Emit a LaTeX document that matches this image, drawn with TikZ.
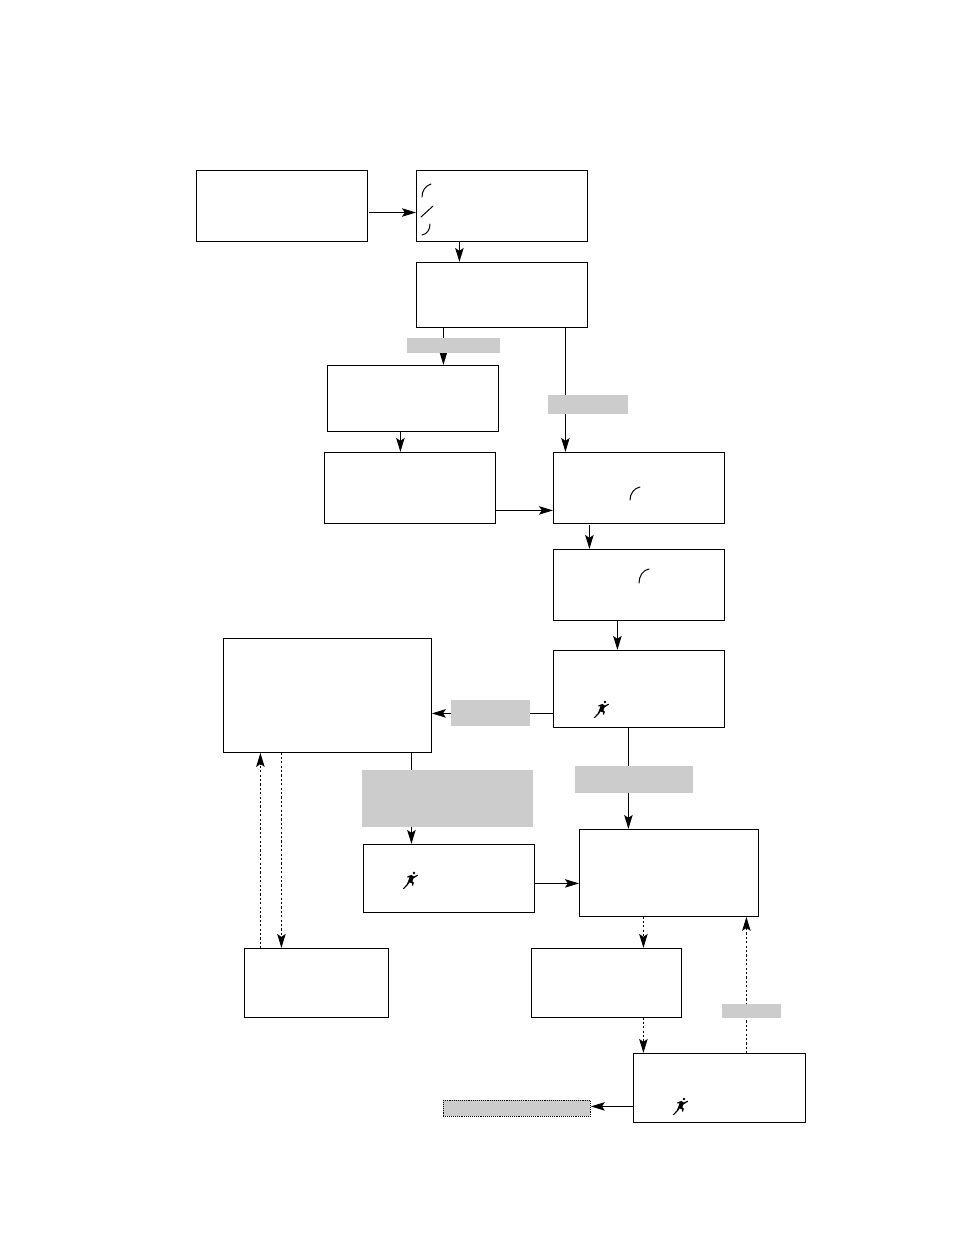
\documentclass[tikz,border=0pt]{standalone}
\usetikzlibrary{arrows.meta}
\definecolor{shade}{HTML}{CCCCCC}
\tikzset{
  panel/.style={draw=black,line width=0.95pt,fill=white,inner sep=0pt,outer sep=0pt},
  tag/.style={fill=shade,inner sep=0pt,outer sep=0pt},
  flow/.style={line width=0.95pt,-{Stealth[length=14pt,width=8.5pt,inset=3pt]},shorten >=0.5pt},
  soft/.style={flow,dash pattern=on 2.2pt off 2.2pt},
  glyph/.style={line width=1pt,line cap=round},
}
% box given by its left, top, right and bottom edges
\newcommand{\boxat}[6]{\node[#2,minimum width={(#5-#3)*1pt},minimum height={(#6-#4)*1pt}] (#1) at ({(#3+#5)/2+0.4},{(#4+#6)/2+0.4}) {};}
% small sprinting figure, placed by its centre
\newcommand{\sprinter}[2]{%
  \begin{scope}[shift={(#1,#2)},scale=1.1]
    \fill (-7.5,8) -- (-3.8,3.8) -- (-2.6,1) -- (-1.4,-2.6) -- (-3.4,-2.2) -- (-3.2,-3.4) -- (0.5,-4.6)
      -- (2.5,-3.2) -- (6,-4.8) -- (6.4,-4) -- (2.2,-1.4) -- (1.2,1.2) -- (2.6,2.4) -- (1.8,5.2) -- (0.9,5)
      -- (1,3) -- (-1.4,2.2) -- (-3,4.8) -- (-6.6,8.2) -- cycle;
    \fill (2.8,-6.4) circle (1.25);
  \end{scope}}
\begin{document}
\begin{tikzpicture}[x=1pt,y=-1pt]
\useasboundingbox (0,0) rectangle (954,1235);

% process boxes
\boxat{a}{panel}{196}{170}{367}{241}
\boxat{b}{panel}{416}{170}{587}{241}
\boxat{c}{panel}{416}{262}{587}{327}
\boxat{d}{panel}{327}{365}{498}{431}
\boxat{e}{panel}{324}{452}{495}{523}
\boxat{f}{panel}{553}{452}{724}{523}
\boxat{g}{panel}{553}{549}{724}{620}
\boxat{h}{panel}{553}{650}{724}{727}
\boxat{i}{panel}{223}{638}{431}{752}
\boxat{j}{panel}{363}{844}{534}{912}
\boxat{k}{panel}{579}{829}{758}{916}
\boxat{l}{panel}{244}{948}{388}{1017}
\boxat{m}{panel}{531}{948}{681}{1017}
\boxat{n}{panel}{633}{1053}{805}{1122}
\boxat{o}{tag,draw=black,line width=0.9pt,densely dotted}{443}{1100}{590}{1116}

% solid connectors
\draw[flow] ([xshift=2pt]a.east |- 0,212.5) -- (b.west |- 0,212.5);
\draw[flow] (b.south -| 459.4,0) -- (c.north -| 459.4,0);
\draw[flow] (c.south -| 443.4,0) -- (d.north -| 443.4,0);
\draw[flow] (c.south -| 565.4,0) -- (f.north -| 565.4,0);
\draw[flow] (d.south -| 400.4,0) -- (e.north -| 400.4,0);
\draw[flow] (e.east |- 0,510.4) -- (f.west |- 0,510.4);
\draw[flow] ([yshift=-2pt]f.south -| 589.4,0) -- (g.north -| 589.4,0);
\draw[flow] (g.south -| 617.4,0) -- (h.north -| 617.4,0);
\draw[flow] (h.west |- 0,713.4) -- (i.east |- 0,713.4);
\draw[flow] (h.south -| 628.4,0) -- (k.north -| 628.4,0);
\draw[flow] (i.south -| 411.4,0) -- (j.north -| 411.4,0);
\draw[flow] (j.east |- 0,883.4) -- (k.west |- 0,883.4);
\draw[flow] (n.west |- 0,1106.4) -- (o.east |- 0,1106.4);

% dashed connectors
\draw[soft] (k.south -| 643.4,0) -- (m.north -| 643.4,0);
\draw[soft] (m.south -| 643.4,0) -- (n.north -| 643.4,0);
\draw[soft] (n.north -| 746.4,0) -- (k.south -| 746.4,0);
\draw[soft] (l.north -| 260.4,0) -- (i.south -| 260.4,0);
\draw[soft] (i.south -| 281.4,0) -- (l.north -| 281.4,0);

% shaded label plates on the connectors
\boxat{t1}{tag}{407}{338}{500}{353}
\boxat{t2}{tag}{548}{395}{628}{414}
\boxat{t3}{tag}{451}{700}{530}{726}
\boxat{t4}{tag}{575}{766}{693}{793}
\boxat{t5}{tag}{362}{770}{533}{827}
\boxat{t6}{tag}{722}{1004}{781}{1018}

% small marks inside the boxes
\draw[glyph] (431,184) .. controls (425,186) and (422,191) .. (422,197);
\draw[glyph] (421,217) -- (433,206);
\draw[glyph] (430,224) .. controls (430,230) and (427,234) .. (422,235);
\draw[glyph] (640,487) .. controls (634,488) and (630,494) .. (630,500);
\draw[glyph] (649,569) .. controls (643,570) and (639,576) .. (639,583);
\sprinter{602}{709}
\sprinter{411}{880}
\sprinter{681}{1106}
\end{tikzpicture}
\end{document}
